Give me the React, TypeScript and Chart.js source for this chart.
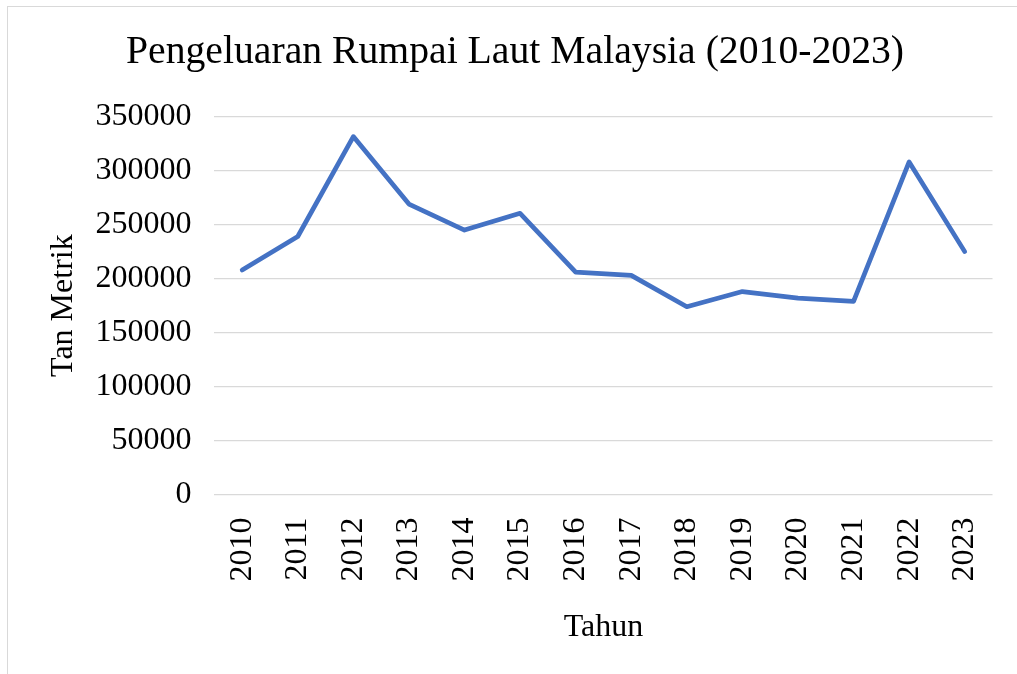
import React, { useEffect, useRef } from "react";
import { Chart, registerables } from "chart.js";

Chart.register(...registerables);

const years: string[] = ["2010", "2011", "2012", "2013", "2014", "2015", "2016", "2017", "2018", "2019", "2020", "2021", "2022", "2023"];
const production: number[] = [208000, 239000, 331500, 269000, 245000, 260500, 206000, 203000, 174000, 188000, 182000, 179000, 308000, 225000];
const chartTitle = "Pengeluaran Rumpai Laut Malaysia (2010-2023)";
const yTitle = "Tan Metrik";
const xTitle = "Tahun";

const FONT = "'Liberation Serif', 'Times New Roman', serif";

export default function App() {
  const ref = useRef<HTMLCanvasElement | null>(null);
  useEffect(() => {
    if (!ref.current) return;
    const chart = new Chart(ref.current, {
      type: "line",
      data: {
        labels: years,
        datasets: [
          {
            data: production,
            borderColor: "#4472C4",
            backgroundColor: "#4472C4",
            borderWidth: 4.7,
            pointRadius: 0,
            pointHoverRadius: 0,
            tension: 0,
            borderCapStyle: "round",
            borderJoinStyle: "round",
          },
        ],
      },
      options: {
        animation: false,
        responsive: false,
        maintainAspectRatio: false,
        layout: { padding: { left: 28.5, right: 35.5, top: 0, bottom: 24 } },
        plugins: {
          legend: { display: false },
          tooltip: { enabled: false },
          title: {
            display: true,
            text: chartTitle,
            color: "#000",
            font: { family: FONT, size: 39.7, weight: "normal" },
            padding: { top: 21, bottom: 40 },
          },
        },
        scales: {
          x: {
            offset: true,
            grid: { display: false, drawTicks: false },
            border: { display: false },
            ticks: {
              color: "#000",
              font: { family: FONT, size: 32 },
              maxRotation: 90,
              minRotation: 90,
              padding: 23,
              autoSkip: false,
            },
            title: {
              display: true,
              text: xTitle,
              color: "#000",
              font: { family: FONT, size: 32 },
              padding: { top: 4, bottom: 4 },
            },
          },
          y: {
            min: 0,
            max: 350000,
            grid: { color: "#d9d9d9", lineWidth: 1.3, drawTicks: false },
            border: { display: false },
            ticks: {
              stepSize: 50000,
              color: "#000",
              font: { family: FONT, size: 32 },
              padding: 23,
              callback: (v: any) => String(v),
            },
            title: {
              display: true,
              text: yTitle,
              color: "#000",
              font: { family: FONT, size: 32 },
              padding: { top: 6.5, bottom: -10 },
            },
          },
        },
      },
    });
    return () => chart.destroy();
  }, []);

  return (
    <div
      style={{
        position: "fixed",
        left: 7,
        top: 6,
        width: 1020,
        height: 668,
        borderLeft: "1.5px solid #d9d9d9",
        borderTop: "1.5px solid #d9d9d9",
        background: "#fff",
        overflow: "hidden",
      }}
    >
      <canvas ref={ref} width={1019} height={667} style={{ display: "block", marginLeft: 0.5, marginTop: 0.5 }} />
    </div>
  );
}
